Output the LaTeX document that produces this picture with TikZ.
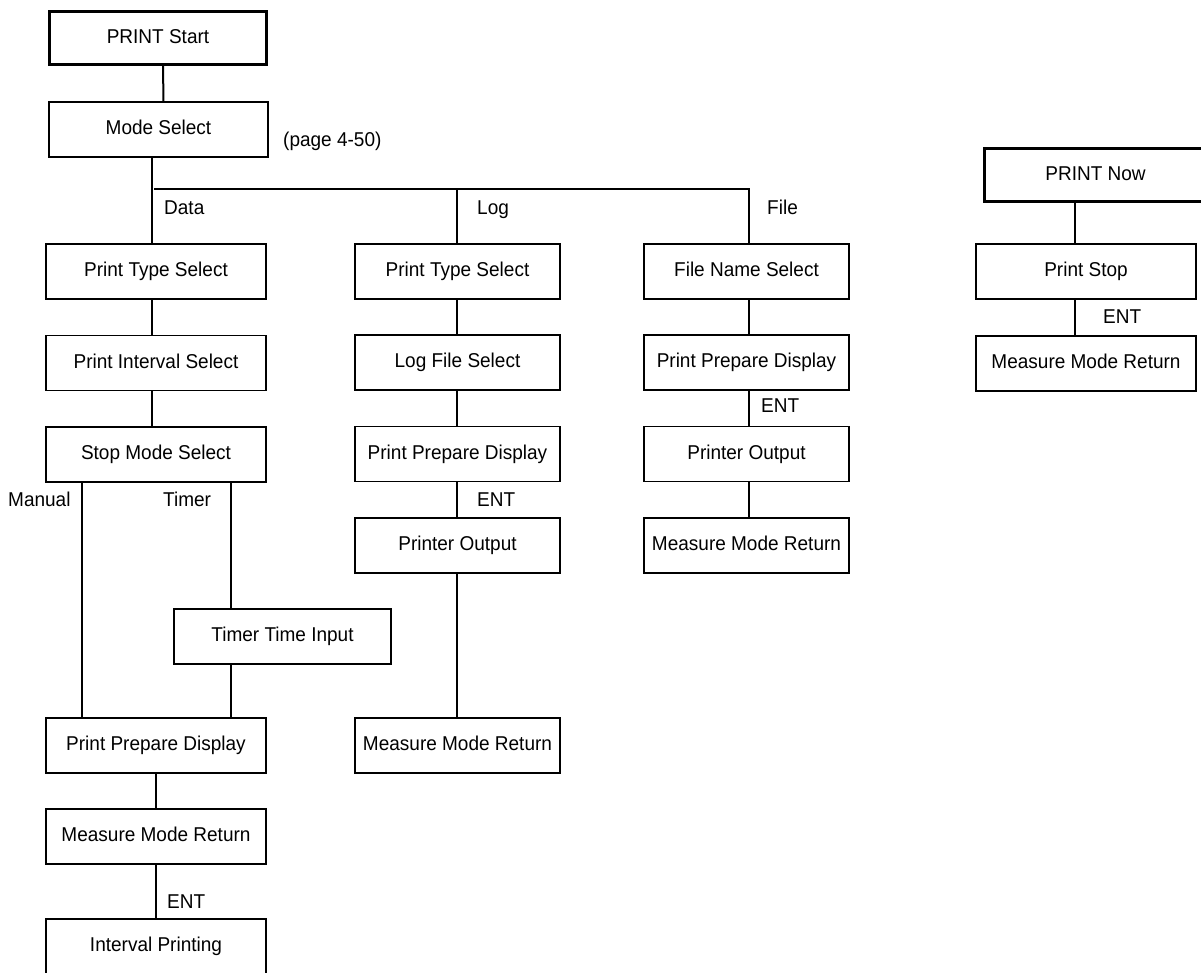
\documentclass[tikz,border=0pt]{standalone}
\usepackage{fontspec}
\setmainfont{Liberation Sans}[FakeStretch=0.95]
\tikzset{
  stepbox/.style={draw,line width=1.2pt,minimum width=220,minimum height=55,inner sep=0pt,
    text height=14.5pt,text depth=4.2pt},
  narrowbox/.style={stepbox,minimum width=205},
  headbox/.style={stepbox,line width=3.2pt,minimum width=217,minimum height=53},
  lbl/.style={anchor=base west,inner sep=0pt},
  link/.style={line width=1.2pt},
  boldlink/.style={line width=2pt},
}
\begin{document}
\begin{tikzpicture}[x=1pt,y=-1pt,font=\fontsize{20}{24}\selectfont]
\useasboundingbox (0,0) rectangle (1201,972);
% column lines
\coordinate (dcol) at (152,0);
\coordinate (mcol) at (82,0);
\coordinate (tcol) at (231,0);
\coordinate (lcol) at (457,0);
\coordinate (fcol) at (749,0);
\coordinate (ncol) at (1075,0);
\coordinate (bus) at (154,189);
% start and mode
\node[headbox] (start) at (158,38) {PRINT Start};
\node[stepbox,minimum width=219] (mode) at (158.5,129.5) {Mode Select};
\node[lbl] (pgref) at (283,146) {(page 4-50)};
% Data column
\node[stepbox] (ptsD) at (156,271.5) {Print Type Select};
\node[stepbox] (intv) at (156,363) {Print Interval Select};
\node[stepbox] (stopm) at (156,454.5) {Stop Mode Select};
\node[stepbox,minimum width=217] (timer) at (282.5,636.5) {Timer Time Input};
\node[stepbox] (prepD) at (156,745.5) {Print Prepare Display};
\node[stepbox] (retD) at (156,836.5) {Measure Mode Return};
\node[stepbox] (intp) at (156,946.5) {Interval Printing};
% Log column
\node[narrowbox] (ptsL) at (457.5,271.5) {Print Type Select};
\node[narrowbox] (logf) at (457.5,362.5) {Log File Select};
\node[narrowbox] (prepL) at (457.5,454) {Print Prepare Display};
\node[narrowbox] (outL) at (457.5,545.5) {Printer Output};
\node[narrowbox] (retL) at (457.5,745.5) {Measure Mode Return};
% File column
\node[narrowbox] (fname) at (746.5,271.5) {File Name Select};
\node[narrowbox] (prepF) at (746.5,362.5) {Print Prepare Display};
\node[narrowbox] (outF) at (746.5,454) {Printer Output};
\node[narrowbox] (retF) at (746.5,545.5) {Measure Mode Return};
% PRINT Now
\node[headbox,minimum width=222] (now) at (1095.5,175) {PRINT Now};
\node[stepbox] (pstop) at (1086,271.5) {Print Stop};
\node[stepbox] (retN) at (1086,363.5) {Measure Mode Return};
% labels
\node[lbl] (ldata) at (164,214) {Data};
\node[lbl] (llog) at (477,214) {Log};
\node[lbl] (lfile) at (767,214) {File};
\node[lbl] (lman) at (8,506) {Manual};
\node[lbl] (ltimer) at (163,506) {Timer};
\node[lbl] (entD) at (167,908) {ENT};
\node[lbl] (entL) at (477,506) {ENT};
\node[lbl] (entF) at (761,412) {ENT};
\node[lbl] (entN) at (1103,323) {ENT};
% connectors
\draw[boldlink] ([xshift=5pt]start.south) -- ([xshift=5pt]mode.north);
\draw[link] (mode.south -| dcol) -- (ptsD.north -| dcol);
\draw[link] (bus) -| (fname.north -| fcol);
\draw[link] (bus -| lcol) -- (ptsL.north -| lcol);
\foreach \a/\b in {ptsD/intv, intv/stopm}
  \draw[link] (\a.south -| dcol) -- (\b.north -| dcol);
\foreach \a/\b in {prepD/retD, retD/intp}
  \draw[link] (\a.south) -- (\b.north);
\draw[link] (stopm.south -| mcol) -- (prepD.north -| mcol);
\draw[link] (stopm.south -| tcol) -- (timer.north -| tcol);
\draw[link] (timer.south -| tcol) -- (prepD.north -| tcol);
\foreach \a/\b in {ptsL/logf, logf/prepL, prepL/outL, outL/retL}
  \draw[link] (\a.south -| lcol) -- (\b.north -| lcol);
\foreach \a/\b in {fname/prepF, prepF/outF, outF/retF}
  \draw[link] (\a.south -| fcol) -- (\b.north -| fcol);
\draw[boldlink] (now.south -| ncol) -- (pstop.north -| ncol);
\draw[boldlink] (pstop.south -| ncol) -- (retN.north -| ncol);
\end{tikzpicture}
\end{document}
